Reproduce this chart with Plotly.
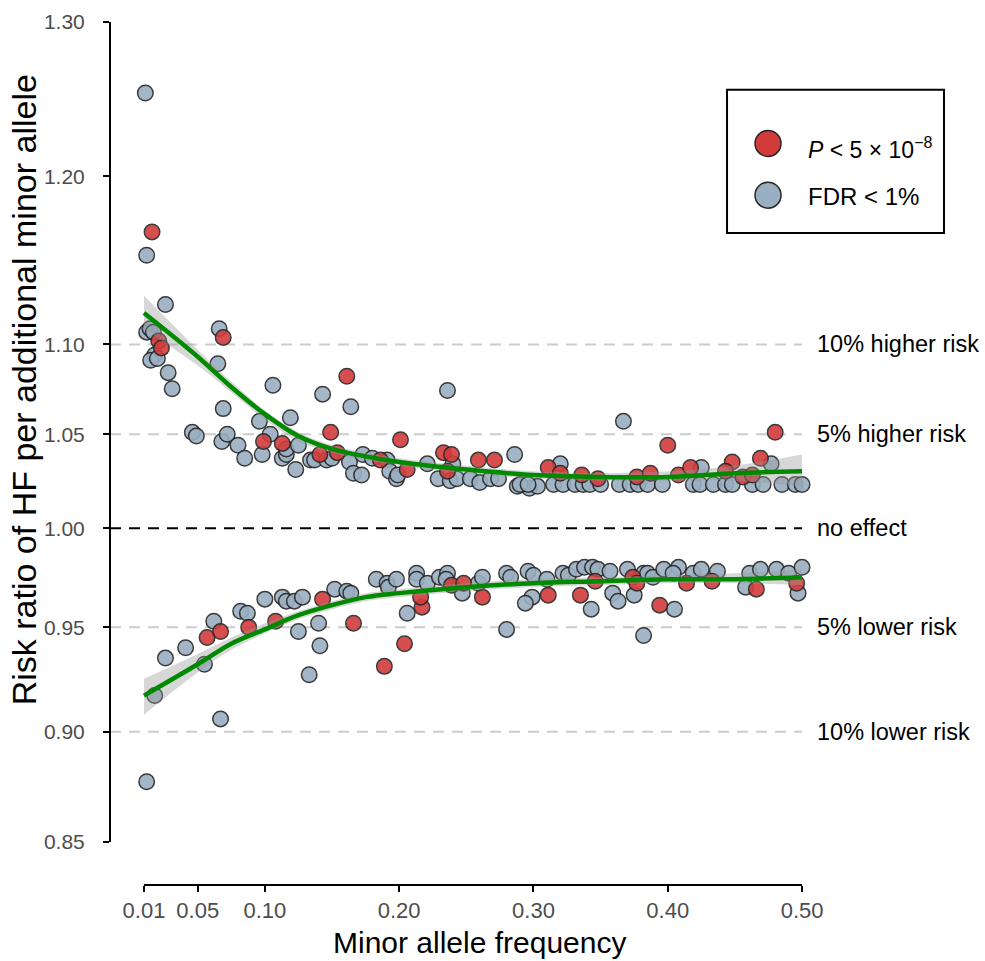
import math
import plotly.graph_objects as go

# ---------------- data ----------------
# genome-wide significant variants (P < 5e-8)
sig_maf = [0.016, 0.021, 0.023, 0.069, 0.099, 0.113, 0.161, 0.149, 0.201, 0.141, 0.154, 0.186,
           0.206, 0.233, 0.239, 0.236, 0.259, 0.271, 0.311, 0.320, 0.336, 0.348, 0.377, 0.387,
           0.400, 0.408, 0.417, 0.448, 0.443, 0.469, 0.456, 0.463, 0.480,
           0.057, 0.067, 0.088, 0.108, 0.143, 0.166, 0.189, 0.204, 0.217, 0.216, 0.239, 0.248,
           0.262, 0.311, 0.335, 0.346, 0.374, 0.377, 0.394, 0.414, 0.433, 0.466, 0.496]
sig_rr = [1.166, 1.102, 1.098, 1.104, 1.046, 1.045, 1.082, 1.051, 1.047, 1.039, 1.040, 1.036,
          1.031, 1.040, 1.039, 1.030, 1.036, 1.036, 1.032, 1.029, 1.028, 1.026, 1.027, 1.029,
          1.044, 1.028, 1.032, 1.035, 1.030, 1.037, 1.027, 1.028, 1.051,
          0.945, 0.948, 0.950, 0.953, 0.964, 0.952, 0.931, 0.942, 0.960, 0.965, 0.971, 0.972,
          0.965, 0.966, 0.966, 0.973, 0.975, 0.972, 0.961, 0.972, 0.973, 0.969, 0.972]

# variants at FDR < 1%
fdr_maf = [0.011, 0.012, 0.026, 0.012, 0.0145, 0.017, 0.018, 0.015, 0.020, 0.028, 0.031, 0.066,
           0.065, 0.069, 0.106, 0.046, 0.049, 0.068, 0.072, 0.080, 0.085, 0.098, 0.096, 0.104,
           0.113, 0.116, 0.119, 0.143, 0.164, 0.236, 0.116, 0.125, 0.123, 0.134, 0.137, 0.146,
           0.150, 0.163, 0.166, 0.172, 0.173, 0.180, 0.191, 0.193, 0.198, 0.199, 0.221, 0.229,
           0.240, 0.238, 0.243, 0.253, 0.260, 0.268, 0.274, 0.286, 0.288, 0.297, 0.303, 0.320,
           0.367, 0.425, 0.477, 0.290, 0.296, 0.315, 0.322, 0.331, 0.337, 0.342, 0.350, 0.364,
           0.372, 0.378, 0.385, 0.396, 0.419, 0.424, 0.434, 0.443, 0.448, 0.463, 0.471, 0.485,
           0.495, 0.500,
           0.012, 0.018, 0.026, 0.041, 0.055, 0.067, 0.062, 0.082, 0.087, 0.100, 0.113, 0.116,
           0.122, 0.128, 0.125, 0.140, 0.141, 0.133, 0.152, 0.161, 0.164, 0.183, 0.191, 0.192,
           0.198, 0.206, 0.213, 0.213, 0.221, 0.230, 0.236, 0.235, 0.247, 0.259, 0.262, 0.280,
           0.280, 0.283, 0.296, 0.300, 0.299, 0.294, 0.310, 0.322, 0.326, 0.332, 0.338, 0.344,
           0.348, 0.357, 0.343, 0.359, 0.363, 0.370, 0.375, 0.382, 0.385, 0.389, 0.382, 0.405,
           0.397, 0.408, 0.404, 0.419, 0.425, 0.437, 0.458, 0.461, 0.469, 0.481, 0.490, 0.500,
           0.497]
fdr_rr = [1.253, 1.152, 1.123, 1.107, 1.109, 1.107, 1.094, 1.091, 1.092, 1.084, 1.075, 1.109,
          1.089, 1.064, 1.077, 1.051, 1.049, 1.046, 1.050, 1.044, 1.037, 1.039, 1.057, 1.050,
          1.037, 1.039, 1.059, 1.072, 1.065, 1.074, 1.042, 1.044, 1.031, 1.036, 1.036, 1.036,
          1.037, 1.035, 1.029, 1.028, 1.039, 1.037, 1.036, 1.030, 1.026, 1.028, 1.034, 1.026,
          1.034, 1.025, 1.026, 1.026, 1.024, 1.026, 1.026, 1.039, 1.022, 1.021, 1.022, 1.034,
          1.057, 1.032, 1.034, 1.023, 1.023, 1.023, 1.023, 1.023, 1.023, 1.023, 1.023, 1.023,
          1.023, 1.023, 1.023, 1.023, 1.023, 1.023, 1.023, 1.023, 1.023, 1.023, 1.023, 1.023,
          1.023, 1.023,
          0.877, 0.917, 0.935, 0.940, 0.932, 0.906, 0.953, 0.958, 0.957, 0.964, 0.965, 0.963,
          0.963, 0.965, 0.948, 0.952, 0.941, 0.927, 0.969, 0.968, 0.967, 0.974, 0.972, 0.970,
          0.974, 0.957, 0.977, 0.974, 0.972, 0.975, 0.977, 0.974, 0.967, 0.972, 0.975, 0.949,
          0.977, 0.975, 0.978, 0.976, 0.965, 0.962, 0.974, 0.977, 0.976, 0.979, 0.980, 0.980,
          0.979, 0.978, 0.959, 0.967, 0.963, 0.979, 0.966, 0.977, 0.977, 0.975, 0.946, 0.959,
          0.979, 0.980, 0.977, 0.977, 0.979, 0.978, 0.970, 0.977, 0.979, 0.979, 0.977, 0.980,
          0.967]

# loess fits with confidence ribbons
fit_maf = [0.010, 0.050, 0.075, 0.100, 0.125, 0.150, 0.175, 0.200, 0.250, 0.300, 0.350, 0.400, 0.450, 0.500]
fit_up = [1.118, 1.093, 1.076, 1.061, 1.049, 1.042, 1.038, 1.035, 1.031, 1.028, 1.027, 1.027, 1.029, 1.030]
fit_up_hi = [1.128, 1.097, 1.079, 1.063, 1.051, 1.044, 1.040, 1.037, 1.033, 1.030, 1.029, 1.030, 1.033, 1.039]
fit_up_lo = [1.109, 1.088, 1.073, 1.058, 1.046, 1.040, 1.036, 1.033, 1.029, 1.026, 1.025, 1.025, 1.025, 1.022]
fit_lo = [0.917, 0.932, 0.942, 0.949, 0.956, 0.961, 0.965, 0.967, 0.970, 0.972, 0.973, 0.974, 0.974, 0.975]
fit_lo_hi = [0.925, 0.937, 0.945, 0.952, 0.958, 0.963, 0.967, 0.969, 0.972, 0.974, 0.975, 0.976, 0.977, 0.979]
fit_lo_lo = [0.908, 0.928, 0.939, 0.947, 0.954, 0.959, 0.963, 0.965, 0.968, 0.970, 0.971, 0.972, 0.972, 0.971]

x_ticks = [0.01, 0.05, 0.10, 0.20, 0.30, 0.40, 0.50]
x_ticktext = ["0.01", "0.05", "0.10", "0.20", "0.30", "0.40", "0.50"]
y_ticks = [0.85, 0.90, 0.95, 1.00, 1.05, 1.10, 1.20, 1.30]
y_ticktext = ["0.85", "0.90", "0.95", "1.00", "1.05", "1.10", "1.20", "1.30"]
ref_levels = [1.10, 1.05, 1.00, 0.95, 0.90]
ref_labels = ["10% higher risk", "5% higher risk", "no effect", "5% lower risk", "10% lower risk"]

# ---------------- styling ----------------
FONT = "Liberation Sans, Arial, Helvetica, sans-serif"
RED = "#D33B3B"
GREY = "#9AAFC1"
EDGE = "#262626"
GREEN = "#008A00"
X_RANGE = [-0.0153, 0.5022]
Y_RANGE = [math.log10(0.8313), 0.11573]

fig = go.Figure()

fig.add_trace(go.Scatter(
    x=fdr_maf, y=fdr_rr, mode="markers", name="FDR < 1%",
    marker=dict(size=15.5, color=GREY, opacity=0.9, line=dict(color=EDGE, width=1.5)),
    showlegend=False, cliponaxis=False))
fig.add_trace(go.Scatter(
    x=sig_maf, y=sig_rr, mode="markers", name="P < 5e-8",
    marker=dict(size=15.5, color=RED, opacity=0.9, line=dict(color=EDGE, width=1.5)),
    showlegend=False, cliponaxis=False))

for lo, hi, mid in [(fit_up_lo, fit_up_hi, fit_up), (fit_lo_lo, fit_lo_hi, fit_lo)]:
    fig.add_trace(go.Scatter(x=fit_maf, y=hi, mode="lines", line=dict(width=0, shape="spline"),
                             showlegend=False, hoverinfo="skip"))
    fig.add_trace(go.Scatter(x=fit_maf, y=lo, mode="lines", line=dict(width=0, shape="spline"),
                             fill="tonexty", fillcolor="rgba(150,150,150,0.38)",
                             showlegend=False, hoverinfo="skip"))
    fig.add_trace(go.Scatter(x=fit_maf, y=mid, mode="lines",
                             line=dict(color=GREEN, width=4.5, shape="spline"),
                             showlegend=False, hoverinfo="skip"))

shapes = []
for lvl in ref_levels:
    shapes.append(dict(type="line", xref="x", yref="y", x0=X_RANGE[0], x1=0.5, y0=lvl, y1=lvl,
                       line=dict(color="black" if lvl == 1.0 else "#CCCCCC", width=2,
                                 dash="11px,8px"), layer="below"))
# capped axis lines
shapes.append(dict(type="line", xref="paper", yref="y", x0=0, x1=0, y0=0.85, y1=1.30,
                   line=dict(color="black", width=2)))
shapes.append(dict(type="line", xref="x", yref="paper", x0=0.01, x1=0.50, y0=0, y1=0,
                   line=dict(color="black", width=2)))
# legend box
shapes.append(dict(type="rect", xref="paper", yref="paper", x0=0.8878, x1=1.2, y0=0.7486, y1=0.9131,
                   line=dict(color="black", width=2), fillcolor="white"))
for yc, col in [(0.8514, RED), (0.792, GREY)]:
    shapes.append(dict(type="circle", xref="paper", yref="paper", xsizemode="pixel", ysizemode="pixel",
                       xanchor=0.9468, yanchor=yc, x0=-13, x1=13, y0=-13, y1=13,
                       fillcolor=col, line=dict(color=EDGE, width=1.5)))

annotations = []
for lvl, lab in zip(ref_levels, ref_labels):
    annotations.append(dict(text=lab, xref="paper", yref="y", x=1.0144, y=math.log10(lvl),
                            xanchor="left", yanchor="middle", showarrow=False,
                            font=dict(family=FONT, size=23.5, color="black")))
annotations.append(dict(text="<i>P</i> < 5 × 10<sup>−8</sup>", xref="paper", yref="paper",
                        x=1.0014, y=0.8457, xanchor="left", yanchor="middle", showarrow=False,
                        font=dict(family=FONT, size=23, color="black")))
annotations.append(dict(text="FDR < 1%", xref="paper", yref="paper",
                        x=1.0014, y=0.7909, xanchor="left", yanchor="middle", showarrow=False,
                        font=dict(family=FONT, size=24, color="black")))
annotations.append(dict(text="Risk ratio of HF per additional minor allele", xref="paper", yref="paper",
                        x=-0.1237, y=0.568, textangle=-90, xanchor="center", yanchor="middle",
                        showarrow=False, font=dict(family=FONT, size=34, color="black")))
annotations.append(dict(text="Minor allele frequency", xref="paper", yref="paper",
                        x=0.5314, y=-0.0663, xanchor="center", yanchor="middle",
                        showarrow=False, font=dict(family=FONT, size=30, color="black")))

fig.update_layout(
    width=985, height=961,
    margin=dict(l=110, r=180, t=10, b=76),
    plot_bgcolor="white", paper_bgcolor="white",
    showlegend=False,
    shapes=shapes, annotations=annotations,
    xaxis=dict(range=X_RANGE, tickvals=x_ticks, ticktext=x_ticktext, showgrid=False, zeroline=False,
               showline=False, ticks="outside", ticklen=6, tickwidth=2, tickcolor="black",
               ticklabelstandoff=0,
               tickfont=dict(family=FONT, size=22, color="#4D4D4D")),
    yaxis=dict(type="log", range=Y_RANGE, tickvals=y_ticks, ticktext=y_ticktext, showgrid=False,
               zeroline=False, showline=False, ticks="outside", ticklen=6, tickwidth=2,
               ticklabelstandoff=14,
               tickcolor="black", tickfont=dict(family=FONT, size=21, color="#4D4D4D")),
)

fig.write_html("out.html")
